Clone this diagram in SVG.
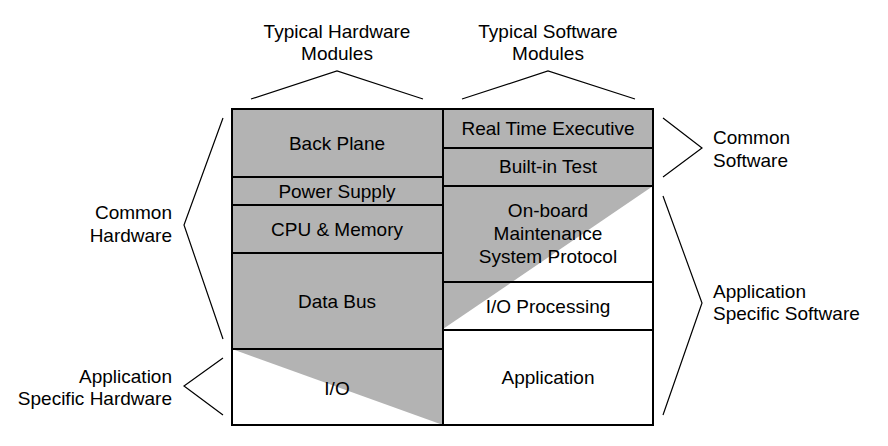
<svg xmlns="http://www.w3.org/2000/svg" width="888" height="446" viewBox="0 0 888 446">
<style>
text{font-family:"Liberation Sans",Arial,sans-serif;font-size:19px;fill:#000}
.c{text-anchor:middle}
.r{text-anchor:end}
.box{stroke:#000;stroke-width:2}
.g{fill:#b3b3b3}
.w{fill:#fff}
.br{fill:none;stroke:#000;stroke-width:1.2}
</style>
<rect width="888" height="446" fill="#fff"/>
<g id="hardware">
<g id="back-plane"><rect class="box g" x="232" y="109" width="211" height="68"/><text class="c" x="337" y="150">Back Plane</text></g>
<g id="power-supply"><rect class="box g" x="232" y="177" width="211" height="28"/><text class="c" x="337" y="198">Power Supply</text></g>
<g id="cpu-memory"><rect class="box g" x="232" y="205" width="211" height="48"/><text class="c" x="337" y="236">CPU &amp; Memory</text></g>
<g id="data-bus"><rect class="box g" x="232" y="253" width="211" height="96"/><text class="c" x="337" y="308">Data Bus</text></g>
<g id="io"><rect class="w" x="232" y="349" width="211" height="76"/><polygon class="g" points="232,349 443,349 443,425"/><rect class="box" fill="none" x="232" y="349" width="211" height="76"/><text class="c" x="337" y="395">I/O</text></g>
</g>
<g id="software">
<g id="rte"><rect class="box g" x="443" y="109" width="210" height="39"/><text class="c" x="548" y="135">Real Time Executive</text></g>
<g id="bit"><rect class="box g" x="443" y="148" width="210" height="38"/><text class="c" x="548" y="173">Built-in Test</text></g>
<g id="diag-bg"><polygon class="g" points="443,186 653,186 443,329"/></g>
<g id="onboard"><rect class="box" fill="none" x="443" y="186" width="210" height="96"/><text class="c" x="548" y="217">On-board</text><text class="c" x="548" y="240">Maintenance</text><text class="c" x="548" y="263">System Protocol</text></g>
<g id="io-processing"><rect class="box" fill="none" x="443" y="282" width="210" height="48"/><text class="c" x="548" y="313">I/O Processing</text></g>
<g id="application"><rect class="box w" x="443" y="330" width="210" height="95"/><text class="c" x="548" y="384">Application</text></g>
</g>
<g id="connectors">
<polyline class="br" points="251,99 337,71 423,99"/>
<polyline class="br" points="462,99 548,71 635,99"/>
<polyline class="br" points="223,118 184,225 223,339"/>
<polyline class="br" points="223,358 184,386 223,415"/>
<polyline class="br" points="663,118 702,148 663,177"/>
<polyline class="br" points="663,196 702,303 663,415"/>
</g>
<g id="labels">
<text class="c" x="337" y="38">Typical Hardware</text><text class="c" x="337" y="60">Modules</text>
<text class="c" x="548" y="38">Typical Software</text><text class="c" x="548" y="60">Modules</text>
<text class="r" x="172" y="219">Common</text><text class="r" x="172" y="242">Hardware</text>
<text class="r" x="172" y="383">Application</text><text class="r" x="172" y="405">Specific Hardware</text>
<text x="713" y="144">Common</text><text x="713" y="167">Software</text>
<text x="713" y="298">Application</text><text x="713" y="320">Specific Software</text>
</g>
</svg>
